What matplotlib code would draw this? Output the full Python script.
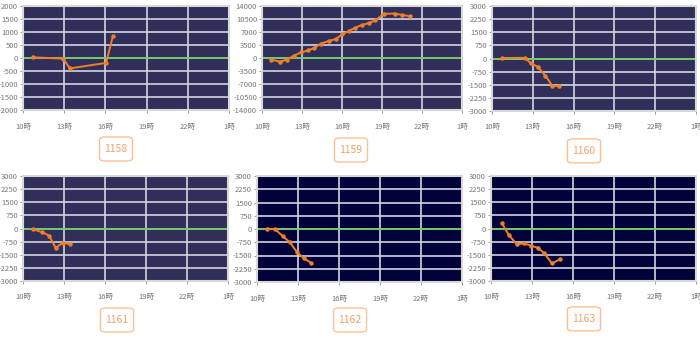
import matplotlib
matplotlib.use("Agg")
import matplotlib.pyplot as plt
from matplotlib.patches import FancyBboxPatch

plt.rcParams['font.family'] = ['Noto Sans CJK JP', 'DejaVu Sans']

names = ["1158", "1159", "1160", "1161", "1162", "1163"]
tick_hours = [10, 13, 16, 19, 22, 25]
tick_labels = ["10時", "13時", "16時", "19時", "22時", "1時"]

x1158 = [10.73, 12.93, 13.41, 16.05, 16.54]
y1158 = [25, -25, -400, -190, 830]

x1159 = [10.68, 11.33, 11.88, 12.38, 12.93, 13.43, 13.93, 14.43, 15.0, 15.53,
         16.0, 16.5, 16.95, 17.5, 18.0, 18.5, 19.13, 19.95, 20.5, 21.13]
y1159 = [-440, -970, -440, 620, 1500, 2020, 2730, 3870, 4580, 5100,
         6340, 7220, 8100, 8890, 9400, 10100, 11900, 11970, 11600, 11200]

x1160 = [10.73, 12.4, 12.88, 13.37, 13.93, 14.44, 14.95]
y1160 = [25, 40, -285, -475, -990, -1560, -1580]

x1161 = [10.73, 11.39, 11.9, 12.39, 12.93, 13.41]
y1161 = [-40, -210, -400, -1110, -800, -900]

x1162 = [10.76, 11.34, 11.9, 12.39, 12.93, 13.41, 13.93]
y1162 = [20, -20, -420, -740, -1310, -1650, -1900]

x1163 = [10.8, 11.3, 11.9, 12.43, 12.92, 13.43, 13.9, 14.45, 15.05]
y1163 = [300, -370, -905, -850, -980, -1100, -1420, -1990, -1760]

xs = [x1158, x1159, x1160, x1161, x1162, x1163]
ys = [y1158, y1159, y1160, y1161, y1162, y1163]
ylims = [2000, 14000, 3000, 3000, 3000, 3000]
ysteps = [500, 3500, 750, 750, 750, 750]

# pixel rectangles (left, top, right, bottom)
rects = [(23, 6, 229, 110), (262, 6, 462, 110), (492, 6, 696, 111),
         (23, 176, 228, 281), (257, 176, 462, 282), (491, 176, 696, 281)]
label_centers = [(116, 149), (351, 150), (584, 151), (117, 320), (350, 320), (584, 319)]
bgs = ["#2f2f5a", "#2f2f5a", "#2f2f5a", "#2f2f5a", "#02023a", "#02023a"]

W, H = 700, 338
fig = plt.figure(figsize=(W / 100, H / 100), dpi=100)

for i in range(6):
    l, t, r, b = rects[i]
    ax = fig.add_axes([l / W, 1 - b / H, (r - l) / W, (b - t) / H])
    ax.set_facecolor(bgs[i])
    ax.set_xlim(10, 25)
    lim = ylims[i]
    ax.set_ylim(-lim, lim)
    ax.set_xticks(tick_hours)
    ax.set_xticklabels(tick_labels)
    yt = list(range(-lim, lim + 1, ysteps[i]))
    ax.set_yticks(yt)
    ax.set_yticklabels([str(v) for v in yt])
    ax.grid(True, color="#d4d4e0", linewidth=1.2)
    ax.set_axisbelow(True)
    ax.axhline(0, color="#6cc860", linewidth=1.3, zorder=2)
    ax.plot(xs[i], ys[i], color="#f07f2a", linewidth=1.4, marker="o",
            markersize=2.2, zorder=3)
    for s in ax.spines.values():
        s.set_color("#d8d8d8")
        s.set_linewidth(1.5)
    ax.tick_params(axis="both", labelsize=5.5, colors="#888888", length=2,
                   width=0.6, pad=1.5)
    ax.tick_params(axis="x", pad=7)
    for lab in ax.get_xticklabels() + ax.get_yticklabels():
        lab.set_color("#777777")

    cx, cy = label_centers[i]
    bw, bh = 33, 24
    box = FancyBboxPatch(((cx - bw / 2) / W, 1 - (cy + bh / 2) / H), bw / W, bh / H,
                         boxstyle="round,pad=0,rounding_size=0.008",
                         transform=fig.transFigure, facecolor="white",
                         edgecolor="#ffbf94", linewidth=1.0)
    fig.add_artist(box)
    fig.text(cx / W, 1 - cy / H, names[i], ha="center", va="center",
             fontsize=7.5, color="#f4a06a")

fig.savefig("out.png", dpi=100, facecolor="white")
